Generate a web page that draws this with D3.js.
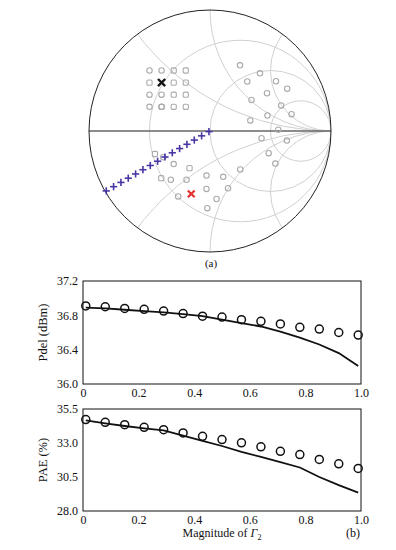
<!DOCTYPE html>
<html>
<head>
<meta charset="utf-8">
<script src="https://cdn.jsdelivr.net/npm/d3@7"></script>
<style>
  body { margin: 0; background: #fff; }
  svg { display: block; }
  text { font-family: "Liberation Serif", "Times New Roman", serif; fill: #111; }
</style>
</head>
<body>
<div id="chart"></div>
<script>
// ---- Smith chart data (reflection coefficient, re / im) ----
const rCircles = [1 / 3, 1, 3];
const xArcs = [0.5, 1, 2, -0.5, -1, -2];

// gray load-pull points
const circleRe = [-0.5, -0.4, -0.5, -0.4, -0.5, -0.4,
  0.248, 0.413, 0.308, 0.545, 0.638, 0.471, 0.343, 0.588, 0.674, 0.475, 0.333, 0.564,
  0.426, 0.635, 0.485, 0.540, 0.250, 0.109, 0.149, 0.054, -0.022, -0.029, -0.029,
  -0.387, -0.300, -0.324, -0.194, -0.263];
const circleIm = [0.5, 0.5, 0.3, 0.3, 0.2, 0.2,
  0.543, 0.477, 0.409, 0.411, 0.350, 0.312, 0.256, 0.211, 0.139, 0.128, 0.087, 0.011,
  -0.060, -0.079, -0.183, -0.269, -0.318, -0.379, -0.473, -0.562, -0.638, -0.368, -0.479,
  -0.217, -0.273, -0.403, -0.403, -0.541];
const squareRe = [-0.3, -0.2, -0.5, -0.3, -0.2, -0.3, -0.2, -0.3, -0.2, -0.4, -0.455, -0.169, -0.403];
const squareIm = [0.5, 0.5, 0.4, 0.4, 0.4, 0.3, 0.3, 0.2, 0.2, 0.2, -0.190, -0.307, -0.390];

// optimum markers
const optBlack = { re: -0.4, im: 0.4 };
const optRed = { re: -0.155, im: -0.52 };

// swept second harmonic load, phase in degrees
const sweepPhase = -150;

// ---- lower plots ----
const magnitude = [0.01, 0.08, 0.15, 0.22, 0.29, 0.36, 0.43, 0.50, 0.57, 0.64, 0.71, 0.78, 0.85, 0.92, 0.99];
const pdelMeasured = [36.91, 36.90, 36.88, 36.87, 36.85, 36.82, 36.79, 36.78, 36.75, 36.73, 36.70, 36.66, 36.64, 36.60, 36.57];
const pdelSimulated = [36.89, 36.88, 36.865, 36.85, 36.835, 36.815, 36.79, 36.75, 36.71, 36.67, 36.61, 36.54, 36.46, 36.36, 36.21];
const paeMeasured = [34.72, 34.52, 34.35, 34.15, 33.98, 33.74, 33.49, 33.25, 33.01, 32.72, 32.39, 32.15, 31.79, 31.47, 31.13];
const paeSimulated = [34.66, 34.45, 34.25, 34.08, 33.93, 33.55, 33.15, 32.78, 32.35, 31.98, 31.60, 31.20, 30.50, 29.90, 29.35];

const xTicks = [0, 0.2, 0.4, 0.6, 0.8, 1.0];
const pdelTicks = [36.0, 36.4, 36.8, 37.2];
const paeTicks = [28.0, 30.5, 33.0, 35.5];

const W = 396, H = 550;
const svg = d3.select("#chart").append("svg").attr("width", W).attr("height", H);
svg.append("rect").attr("width", W).attr("height", H).attr("fill", "#fff");

// ================= Smith chart =================
const cx = 210, cy = 131, R = 121;
const gx = d3.scaleLinear().domain([-1, 1]).range([cx - R, cx + R]);
const gy = d3.scaleLinear().domain([-1, 1]).range([cy + R, cy - R]);
const unit = gx(1) - gx(0);

svg.append("clipPath").attr("id", "unit")
  .append("circle").attr("cx", gx(0)).attr("cy", gy(0)).attr("r", unit);

const grid = svg.append("g").attr("clip-path", "url(#unit)")
  .attr("fill", "none").attr("stroke", "#d0d0d0").attr("stroke-width", 1);

grid.selectAll("circle.r").data(rCircles).enter().append("circle")
  .attr("class", "r")
  .attr("cx", (r) => gx(r / (1 + r)))
  .attr("cy", gy(0))
  .attr("r", (r) => unit / (1 + r));

grid.selectAll("circle.x").data(xArcs).enter().append("circle")
  .attr("class", "x")
  .attr("cx", gx(1))
  .attr("cy", (x) => gy(1 / x))
  .attr("r", (x) => unit / Math.abs(x));

// real axis
svg.append("line")
  .attr("x1", gx(-1)).attr("x2", gx(1)).attr("y1", gy(0)).attr("y2", gy(0))
  .attr("stroke", "#666").attr("stroke-width", 1.4);

// outer circle
svg.append("circle").attr("cx", gx(0)).attr("cy", gy(0)).attr("r", unit)
  .attr("fill", "none").attr("stroke", "#222").attr("stroke-width", 1);

// gray points
svg.append("g").selectAll("circle").data(circleRe).enter().append("circle")
  .attr("cx", (d) => gx(d))
  .attr("cy", (d, i) => gy(circleIm[i]))
  .attr("r", 2.7)
  .attr("fill", "none").attr("stroke", "#aaa").attr("stroke-width", 1.1);

svg.append("g").selectAll("rect").data(squareRe).enter().append("rect")
  .attr("x", (d) => gx(d) - 2.6)
  .attr("y", (d, i) => gy(squareIm[i]) - 2.6)
  .attr("width", 5.2).attr("height", 5.2).attr("rx", 1.3)
  .attr("fill", "none").attr("stroke", "#aaa").attr("stroke-width", 1.1);

// swept |Γ2| crosses
const phi = sweepPhase * Math.PI / 180;
const cross = (g, px, py, s) => {
  g.append("line").attr("x1", px - s).attr("x2", px + s).attr("y1", py).attr("y2", py);
  g.append("line").attr("x1", px).attr("x2", px).attr("y1", py - s).attr("y2", py + s);
};
const crossG = svg.append("g").attr("stroke", "#4b35a6").attr("stroke-width", 1.6);
magnitude.forEach((m) => {
  cross(crossG, gx(m * Math.cos(phi)), gy(m * Math.sin(phi)), 3.6);
});

// optimum x markers
const xMark = (pt, color, s, w) => {
  const g = svg.append("g").attr("stroke", color).attr("stroke-width", w);
  const px = gx(pt.re), py = gy(pt.im);
  g.append("line").attr("x1", px - s).attr("x2", px + s).attr("y1", py - s).attr("y2", py + s);
  g.append("line").attr("x1", px - s).attr("x2", px + s).attr("y1", py + s).attr("y2", py - s);
};
xMark(optBlack, "#151515", 3.6, 2.4);
xMark(optRed, "#e5322e", 3.4, 2.2);

svg.append("text").attr("x", cx + 1).attr("y", 267)
  .attr("text-anchor", "middle").attr("font-size", 11).text("(a)");

// ================= Pdel / PAE plots =================
const left = 83, right = 361;
const x = d3.scaleLinear().domain([0, 1]).range([left, right]);

const drawPanel = (top, bottom, domain, ticks, measured, simulated, label) => {
  const y = d3.scaleLinear().domain(domain).range([bottom, top]);
  const g = svg.append("g");

  g.append("rect").attr("x", left).attr("y", top)
    .attr("width", right - left).attr("height", bottom - top)
    .attr("fill", "none").attr("stroke", "#111").attr("stroke-width", 1);

  const yAxis = g.append("g").attr("transform", `translate(${left},0)`)
    .call(d3.axisLeft(y).tickValues(ticks).tickSize(0).tickPadding(5).tickFormat(d3.format(".1f")));
  yAxis.select(".domain").remove();
  yAxis.selectAll("text").attr("font-size", 12)
    .style("font-family", '"Liberation Serif", "Times New Roman", serif').attr("fill", "#111");

  const xAxis = g.append("g").attr("transform", `translate(0,${bottom})`)
    .call(d3.axisBottom(x).tickValues(xTicks).tickSize(0).tickPadding(4)
      .tickFormat((d) => (d === 0 ? "0" : d3.format(".1f")(d))));
  xAxis.select(".domain").remove();
  xAxis.selectAll("text").attr("font-size", 12)
    .style("font-family", '"Liberation Serif", "Times New Roman", serif').attr("fill", "#111");

  const line = d3.line().x((d, i) => x(magnitude[i])).y((d) => y(d));
  g.append("path").datum(simulated).attr("d", line)
    .attr("fill", "none").attr("stroke", "#111").attr("stroke-width", 1.8);

  g.selectAll("circle.m").data(measured).enter().append("circle")
    .attr("class", "m")
    .attr("cx", (d, i) => x(magnitude[i]))
    .attr("cy", (d) => y(d))
    .attr("r", 4)
    .attr("fill", "none").attr("stroke", "#111").attr("stroke-width", 1.5);

  g.append("text")
    .attr("transform", `translate(47,${(top + bottom) / 2}) rotate(-90)`)
    .attr("text-anchor", "middle").attr("font-size", 12.5).text(label);
};

drawPanel(281, 384, [36.0, 37.2], pdelTicks, pdelMeasured, pdelSimulated, "Pdel (dBm)");
drawPanel(409, 511, [28.0, 35.5], paeTicks, paeMeasured, paeSimulated, "PAE (%)");

const xl = svg.append("text").attr("x", (left + right) / 2).attr("y", 537)
  .attr("text-anchor", "middle").attr("font-size", 12);
xl.append("tspan").text("Magnitude of ");
xl.append("tspan").attr("font-style", "italic").text("Γ");
xl.append("tspan").attr("font-size", 8).attr("dy", 3).text("2");

svg.append("text").attr("x", 353).attr("y", 537)
  .attr("text-anchor", "middle").attr("font-size", 12).text("(b)");
</script>
</body>
</html>
